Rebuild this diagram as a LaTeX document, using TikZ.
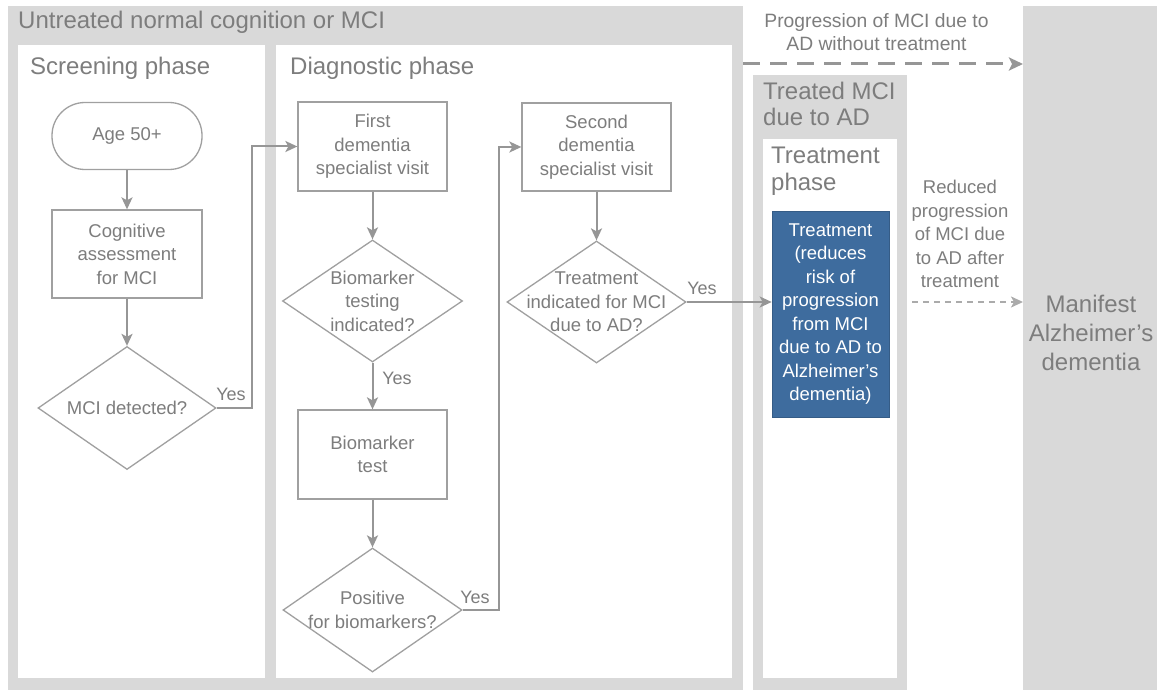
\documentclass[tikz,border=0pt]{standalone}
\usepackage{fontspec}
\setmainfont{Liberation Sans}
\usetikzlibrary{shapes.geometric,arrows.meta,calc}
\definecolor{bggray}{RGB}{217,217,217}
\definecolor{txtgray}{RGB}{125,125,125}
\definecolor{linegray}{RGB}{160,160,160}
\definecolor{arrgray}{RGB}{150,150,150}
\definecolor{treatblue}{RGB}{62,108,158}
\begin{document}
\begin{tikzpicture}[x=1pt,y=-1pt,
  body/.style={font=\fontsize{18.5}{23.5}\selectfont, text=txtgray, align=center, inner sep=0pt},
  head/.style={font=\fontsize{24}{28}\selectfont, text=txtgray, align=left, inner sep=0pt, anchor=west},
  stepbox/.style={draw=linegray, line width=1.3pt, fill=white, rectangle, inner sep=0pt},
  decbox/.style={draw=linegray, line width=1.3pt, fill=white, diamond, inner sep=0pt},
  arr/.style={draw=arrgray, line width=2pt, -{Stealth[length=12pt,width=11pt,inset=3pt]}},
  yeslab/.style={font=\fontsize{18}{22}\selectfont, text=txtgray, inner sep=0pt}
]
\useasboundingbox (0,0) rectangle (1157,690);
% backgrounds
\fill[bggray] (8,6) rectangle (743,690);
\fill[white] (18,45) rectangle (265,678);
\fill[white] (276,45) rectangle (732,678);
\fill[bggray] (753,75) rectangle (907,690);
\fill[white] (763,139) rectangle (897,678);
\fill[bggray] (1023,6) rectangle (1157,690);
% headings
\node[head] (h1) at (18,22) {Untreated normal cognition or MCI};
\node[head] (h2) at (30,68) {Screening phase};
\node[head] (h3) at (290,68) {Diagnostic phase};
\node[head, align=left, anchor=north west, font=\fontsize{24}{25.5}\selectfont] (h4) at (763,82) {Treated MCI\\due to AD};
\node[head, align=left, anchor=north west, font=\fontsize{24}{27}\selectfont] (h5) at (771,147) {Treatment\\phase};
% screening
\node[stepbox, minimum width=150pt, minimum height=67pt, rounded corners=33pt] (age) at (127,136) {};
\node[body] (agetxt) at (age.center) {Age 50+};
\node[stepbox, minimum width=150pt, minimum height=88pt] (cog) at (127,254) {};
\node[body] (cogtxt) at (cog.center) {Cognitive\\assessment\\for MCI};
\node[decbox, minimum width=178pt, minimum height=123pt] (mci) at (127,408) {};
\node[body] (mcitxt) at (mci.center) {MCI detected?};
% diagnostic
\node[stepbox, minimum width=149pt, minimum height=89pt] (first) at (372.5,146.5) {};
\node[body] (firsttxt) at (first.center) {First\\dementia\\specialist visit};
\node[decbox, minimum width=180pt, minimum height=122pt] (bti) at (372.5,301) {};
\node[body] (btitxt) at (bti.center) {Biomarker\\testing\\indicated?};
\node[stepbox, minimum width=149pt, minimum height=89pt] (btest) at (372.5,454.5) {};
\node[body] (btesttxt) at (btest.center) {Biomarker\\test};
\node[decbox, minimum width=179pt, minimum height=124pt] (pos) at (372.5,610) {};
\node[body] (postxt) at (pos.center) {Positive\\for biomarkers?};
\node[stepbox, minimum width=149pt, minimum height=88pt] (second) at (596.5,147) {};
\node[body] (secondtxt) at (second.center) {Second\\dementia\\specialist visit};
\node[decbox, minimum width=179pt, minimum height=122pt] (ti) at (596.5,302) {};
\node[body] (titxt) at (ti.center) {Treatment\\indicated for MCI\\due to AD?};
% treatment
\node[fill=treatblue, draw=treatblue!85!black, line width=0.6pt, minimum width=117pt, minimum height=206pt, inner sep=0pt] (treat) at (830.5,314) {};
\node[body, text=white] (treattxt) at (treat.center) {Treatment\\(reduces\\risk of\\progression\\from MCI\\due to AD to\\Alzheimer’s\\dementia)};
% right texts
\node[body, font=\fontsize{19.3}{23}\selectfont] (prog) at (876.5,32) {Progression of MCI due to\\AD without treatment};
\node[body] (red) at (960,234) {Reduced\\progression\\of MCI due\\to AD after\\treatment};
\node[body, font=\fontsize{24}{29}\selectfont] (manif) at (1091,333) {Manifest\\Alzheimer’s\\dementia};
% connectors
\draw[arr] (age.south) -- (cog.north);
\draw[arr] (cog.south) -- (mci.north);
\draw[arr] (mci.east) -- ++(35,0) |- (first.west);
\draw[arr] (first.south) -- (bti.north);
\draw[arr] (bti.south) -- (btest.north);
\draw[arr] (btest.south) -- (pos.north);
\draw[arr] (pos.east) -- ++(36,0) |- (second.west);
\draw[arr] (second.south) -- (ti.north);
\draw[arr] (ti.east) -- (ti.east -| treat.west);
\node[yeslab] (y1) at (231,394) {Yes};
\node[yeslab] (y2) at (397,378) {Yes};
\node[yeslab] (y3) at (475,597) {Yes};
\node[yeslab] (y4) at (702,288) {Yes};
\coordinate (d1s) at (743,64);
\coordinate (d1e) at (1023,64);
\draw[draw=arrgray, line width=3pt, dash pattern=on 17pt off 10pt, -{Stealth[length=14pt,width=13pt,inset=3pt]}] (d1s) -- (d1e);
\coordinate (d2s) at (912,302);
\coordinate (d2e) at (1023,302);
\draw[draw=arrgray!80, line width=1.8pt, dash pattern=on 6pt off 5pt, -{Stealth[length=12pt,width=11pt,inset=3pt]}] (d2s) -- (d2e);
\end{tikzpicture}
\end{document}
